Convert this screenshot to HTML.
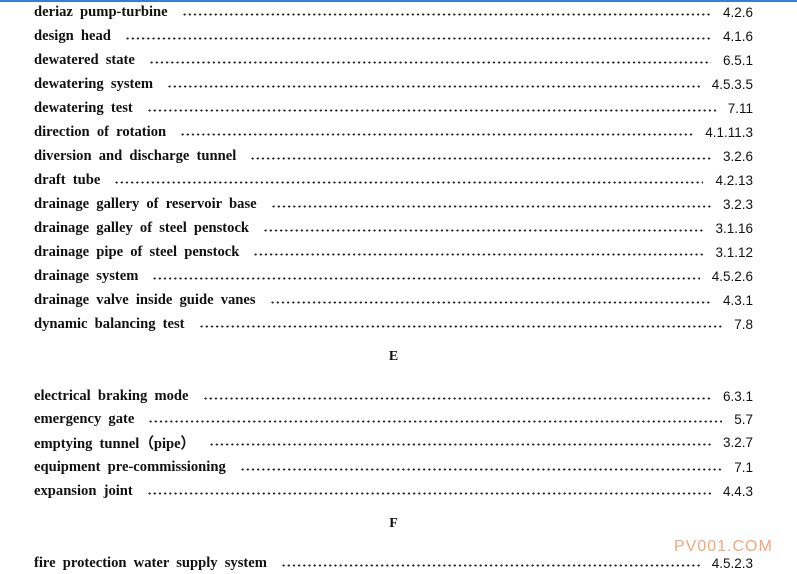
<!DOCTYPE html>
<html><head><meta charset="utf-8"><style>
html,body{margin:0;padding:0;background:#fff;width:797px;height:574px;overflow:hidden;position:relative}
.top{position:absolute;left:0;top:0;width:797px;height:2px;background:#3a7bd5}
.r{position:absolute;left:34px;width:719px;height:20px;display:flex;align-items:center;margin-top:1px}
.l{font-family:"Liberation Serif",serif;font-weight:bold;font-size:14.6px;word-spacing:3.5px;color:#111;white-space:nowrap}
.d{flex:1;height:3px;margin:4px 12px 0 14px;background-image:radial-gradient(circle,#222 1px,transparent 1.2px);background-size:5.2px 3px;background-repeat:repeat-x}
.n{font-family:"Liberation Sans",sans-serif;font-size:13.5px;color:#111;white-space:nowrap}
.h{position:absolute;width:787px;left:0;text-align:center;font-family:"Liberation Serif",serif;font-weight:bold;font-size:14px;color:#111}
.wm{position:absolute;left:674px;top:538px;font-family:"Liberation Sans",sans-serif;font-size:16px;color:#f4a57a;letter-spacing:1px}
</style></head><body>
<div class="top"></div>
<div class="r" style="top:1px"><span class="l">deriaz pump-turbine</span><span class="d"></span><span class="n">4.2.6</span></div>
<div class="r" style="top:25px"><span class="l">design head</span><span class="d"></span><span class="n">4.1.6</span></div>
<div class="r" style="top:49px"><span class="l">dewatered state</span><span class="d"></span><span class="n">6.5.1</span></div>
<div class="r" style="top:73px"><span class="l">dewatering system</span><span class="d"></span><span class="n">4.5.3.5</span></div>
<div class="r" style="top:97px"><span class="l">dewatering test</span><span class="d"></span><span class="n">7.11</span></div>
<div class="r" style="top:121px"><span class="l">direction of rotation</span><span class="d"></span><span class="n">4.1.11.3</span></div>
<div class="r" style="top:145px"><span class="l">diversion and discharge tunnel</span><span class="d"></span><span class="n">3.2.6</span></div>
<div class="r" style="top:169px"><span class="l">draft tube</span><span class="d"></span><span class="n">4.2.13</span></div>
<div class="r" style="top:193px"><span class="l">drainage gallery of reservoir base</span><span class="d"></span><span class="n">3.2.3</span></div>
<div class="r" style="top:217px"><span class="l">drainage galley of steel penstock</span><span class="d"></span><span class="n">3.1.16</span></div>
<div class="r" style="top:241px"><span class="l">drainage pipe of steel penstock</span><span class="d"></span><span class="n">3.1.12</span></div>
<div class="r" style="top:265px"><span class="l">drainage system</span><span class="d"></span><span class="n">4.5.2.6</span></div>
<div class="r" style="top:289px"><span class="l">drainage valve inside guide vanes</span><span class="d"></span><span class="n">4.3.1</span></div>
<div class="r" style="top:313px"><span class="l">dynamic balancing test</span><span class="d"></span><span class="n">7.8</span></div>
<div class="h" style="top:349px">E</div>
<div class="r" style="top:385px"><span class="l">electrical braking mode</span><span class="d"></span><span class="n">6.3.1</span></div>
<div class="r" style="top:408px"><span class="l">emergency gate</span><span class="d"></span><span class="n">5.7</span></div>
<div class="r" style="top:431px"><span class="l">emptying tunnel（pipe）</span><span class="d"></span><span class="n">3.2.7</span></div>
<div class="r" style="top:456px"><span class="l">equipment pre-commissioning</span><span class="d"></span><span class="n">7.1</span></div>
<div class="r" style="top:480px"><span class="l">expansion joint</span><span class="d"></span><span class="n">4.4.3</span></div>
<div class="h" style="top:516px">F</div>
<div class="wm">PV001.COM</div>
<div class="r" style="top:552px"><span class="l">fire protection water supply system</span><span class="d"></span><span class="n">4.5.2.3</span></div>
</body></html>
